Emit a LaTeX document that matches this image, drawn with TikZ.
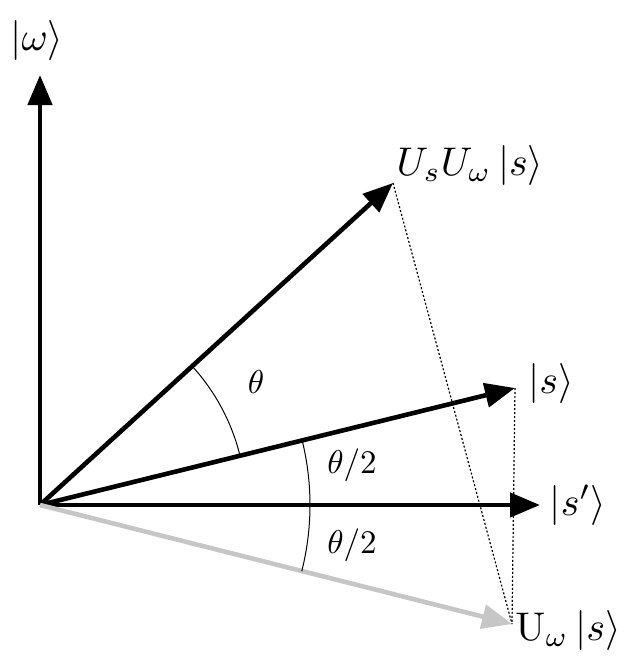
\documentclass[tikz,border=0pt]{standalone}
\usetikzlibrary{arrows.meta,calc}
\newcommand{\biglab}[1]{\scalebox{4}{#1}}
\newcommand{\medlab}[1]{\scalebox{3.3}{#1}}
\begin{document}
\begin{tikzpicture}[x=1pt,y=-1pt,
  vec/.style={line width=4.6pt,-{Triangle[length=30pt,width=24pt]}},
  lab/.style={inner sep=0pt},
  dot/.style={dash pattern=on 2pt off 2pt,line width=1.2pt}]
\useasboundingbox (0,0) rectangle (640,664);
\coordinate (o) at (40,505);
\coordinate (w) at (40,75);
\coordinate (sp) at (540,505);
\coordinate (s) at (515,388);
\coordinate (uu) at (393,183);
\coordinate (uw) at (512,624);
\draw[dot] (uu) -- (uw);
\draw[dot] (s) -- (uw);
\draw[vec] (o) -- (w);
\draw[vec] (o) -- (sp);
\draw[vec] (o) -- (s);
\draw[vec] (o) -- (uu);
\draw[vec,gray!45] (o) -- (uw);
\draw[line width=1pt] ($(o)+(-13.8:206)$) arc[start angle=-13.8,end angle=-42.4,radius=206];
\draw[line width=1pt] ($(o)+(14.2:270)$) arc[start angle=14.2,end angle=-13.8,radius=270];
\node[lab] (lw) at (37,40) {\biglab{$|\omega\rangle$}};
\node[lab] (luu) at (470,165) {\biglab{$U_sU_\omega\,|s\rangle$}};
\node[lab] (ls) at (551,383) {\biglab{$|s\rangle$}};
\node[lab] (lsp) at (578,505) {\biglab{$|s'\rangle$}};
\node[lab] (luw) at (568,630) {\biglab{$\mathrm{U}_\omega\,|s\rangle$}};
\node[lab] (t1) at (256,382) {\medlab{$\theta$}};
\node[lab] (t2) at (352,465) {\medlab{$\theta/2$}};
\node[lab] (t3) at (352,545) {\medlab{$\theta/2$}};
\end{tikzpicture}
\end{document}
